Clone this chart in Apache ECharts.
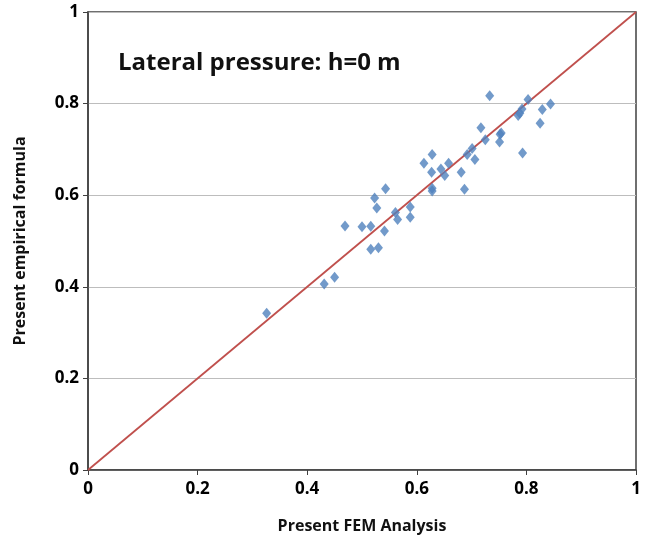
<!DOCTYPE html>
<html>
<head>
<meta charset="utf-8">
<script src="https://cdn.jsdelivr.net/npm/echarts@6/dist/echarts.min.js"></script>
<style>html,body{margin:0;padding:0;background:#fff}#c{width:653px;height:542px}</style>
</head>
<body>
<div id="c"></div>
<script>
const xTicks = [0, 0.2, 0.4, 0.6, 0.8, 1];
const yTicks = [0, 0.2, 0.4, 0.6, 0.8, 1];
const femX = [0.326,0.431,0.450,0.469,0.500,0.516,0.516,0.530,0.523,0.527,0.543,0.541,0.561,0.565,0.588,0.588,0.613,0.628,0.627,0.628,0.628,0.644,0.651,0.658,0.681,0.687,0.692,0.701,0.706,0.717,0.725,0.733,0.751,0.752,0.754,0.785,0.788,0.792,0.793,0.803,0.825,0.829,0.844];
const empY = [0.342,0.406,0.421,0.533,0.531,0.532,0.482,0.485,0.594,0.572,0.614,0.522,0.562,0.547,0.574,0.552,0.670,0.689,0.650,0.615,0.609,0.657,0.643,0.670,0.650,0.613,0.689,0.702,0.678,0.747,0.721,0.817,0.716,0.733,0.736,0.774,0.779,0.788,0.692,0.809,0.757,0.787,0.799];
const lineX = [0, 1];
const lineY = [0, 1];

const chart = echarts.init(document.getElementById('c'));
const font = '"Open Sans", sans-serif';
chart.setOption({
  animation: false,
  backgroundColor: '#fff',
  grid: { left: 88, right: 17, top: 12, bottom: 72, show: true, borderColor: '#404040', borderWidth: 1.5, backgroundColor: 'transparent' },
  title: {
    text: 'Lateral pressure: h=0 m',
    left: 113, top: 46,
    textStyle: { fontFamily: font, fontSize: 24, fontWeight: 'bold', color: '#111' }
  },
  xAxis: {
    type: 'value', min: 0, max: 1, interval: 0.2,
    name: 'Present FEM Analysis', nameLocation: 'middle', nameGap: 48,
    nameTextStyle: { fontFamily: font, fontSize: 16, fontWeight: 'bold', color: '#111' },
    axisLine: { show: true, lineStyle: { color: '#404040', width: 1.5 } },
    axisTick: { show: true, length: 5, lineStyle: { color: '#404040' } },
    axisLabel: { fontFamily: font, fontSize: 17, fontWeight: 'bold', color: '#000', margin: 11,
      formatter: v => { const t = xTicks.find(a => Math.abs(a - v) < 1e-9); return t === undefined ? '' : String(t); } },
    splitLine: { show: false }
  },
  yAxis: {
    type: 'value', min: 0, max: 1, interval: 0.2,
    name: 'Present empirical formula', nameLocation: 'middle', nameGap: 60,
    nameTextStyle: { fontFamily: font, fontSize: 16, fontWeight: 'bold', color: '#111' },
    axisLine: { show: true, lineStyle: { color: '#404040', width: 1.5 } },
    axisTick: { show: true, length: 5, lineStyle: { color: '#404040' } },
    axisLabel: { fontFamily: font, fontSize: 17, fontWeight: 'bold', color: '#000', margin: 9,
      formatter: v => { const t = yTicks.find(a => Math.abs(a - v) < 1e-9); return t === undefined ? '' : String(t); } },
    splitLine: { show: true, lineStyle: { color: '#bdbdbd', width: 1 } }
  },
  series: [
    {
      type: 'line', data: lineX.map((x, i) => [x, lineY[i]]),
      showSymbol: false, symbol: 'none',
      lineStyle: { color: '#C0504D', width: 1.8 }, z: 2
    },
    {
      type: 'scatter', data: femX.map((x, i) => [x, empY[i]]),
      symbol: 'diamond', symbolSize: [9, 11],
      itemStyle: { color: '#4F81BD' }, z: 3
    }
  ]
});
</script>
</body>
</html>
